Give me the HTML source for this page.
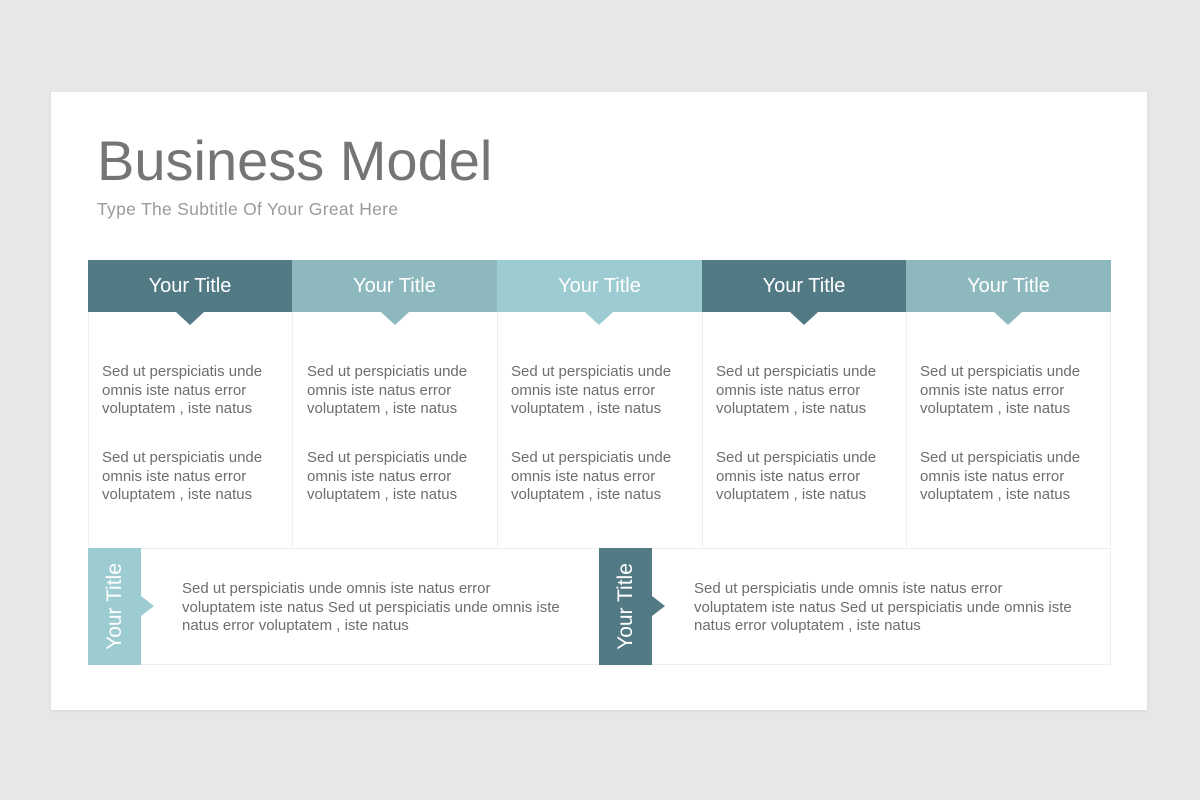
<!DOCTYPE html>
<html><head><meta charset="utf-8"><style>
body{margin:0;width:1200px;height:800px;background:#e8e6e7;font-family:"Liberation Sans",sans-serif;position:relative;overflow:hidden}
.slide{position:absolute;left:51px;top:92px;width:1096px;height:618px;background:#fff;box-shadow:0 1px 3px rgba(0,0,0,.08)}
.a{position:absolute}
h1{position:absolute;left:97px;top:128px;margin:0;font-weight:normal;font-size:56px;color:#757575;letter-spacing:0;line-height:66px}
.sub{left:97px;top:199px;font-size:17.5px;color:#9a9a9a;letter-spacing:0.3px}
.hd{height:52px;top:260px;color:#fff;font-size:20px;text-align:center;line-height:52px}
.tri{width:0;height:0;border-left:14px solid transparent;border-right:14px solid transparent;top:312px}
.col{top:312px;height:235px;border-left:1px solid #eee;border-right:1px solid #eee;box-sizing:border-box}
.tx{font-size:15px;line-height:18.5px;color:#6d6d6d}
.bt{top:548px;height:117px;border:1px solid #eee;box-sizing:border-box}
.vb{top:548px;width:53px;height:117px}
.vt{color:#fff;font-size:21px;transform:rotate(-90deg);transform-origin:center;width:117px;height:53px;line-height:53px;text-align:center;position:absolute;left:-32px;top:32px}
.rt{width:0;height:0;border-top:10px solid transparent;border-bottom:10px solid transparent;top:596px}
</style></head><body>
<div class="slide"></div>
<h1>Business Model</h1>
<div class="a sub">Type The Subtitle Of Your Great Here</div>

<div class="a col" style="left:88px;width:205px"></div>
<div class="a col" style="left:292px;width:206px"></div>
<div class="a col" style="left:497px;width:206px"></div>
<div class="a col" style="left:702px;width:205px"></div>
<div class="a col" style="left:906px;width:205px"></div>

<div class="a hd" style="left:88px;width:204px;background:#527a85">Your Title</div>
<div class="a hd" style="left:292px;width:205px;background:#8db8bd">Your Title</div>
<div class="a hd" style="left:497px;width:205px;background:#9ccbd1">Your Title</div>
<div class="a hd" style="left:702px;width:204px;background:#527a85">Your Title</div>
<div class="a hd" style="left:906px;width:205px;background:#8db8bd">Your Title</div>

<div class="a tri" style="left:176px;border-top:13px solid #527a85"></div>
<div class="a tri" style="left:381px;border-top:13px solid #8db8bd"></div>
<div class="a tri" style="left:585px;border-top:13px solid #9ccbd1"></div>
<div class="a tri" style="left:790px;border-top:13px solid #527a85"></div>
<div class="a tri" style="left:994px;border-top:13px solid #8db8bd"></div>

<div class="a tx" style="left:102px;top:363px">Sed ut perspiciatis unde<br>omnis iste natus error<br>voluptatem , iste natus</div>
<div class="a tx" style="left:307px;top:363px">Sed ut perspiciatis unde<br>omnis iste natus error<br>voluptatem , iste natus</div>
<div class="a tx" style="left:511px;top:363px">Sed ut perspiciatis unde<br>omnis iste natus error<br>voluptatem , iste natus</div>
<div class="a tx" style="left:716px;top:363px">Sed ut perspiciatis unde<br>omnis iste natus error<br>voluptatem , iste natus</div>
<div class="a tx" style="left:920px;top:363px">Sed ut perspiciatis unde<br>omnis iste natus error<br>voluptatem , iste natus</div>

<div class="a tx" style="left:102px;top:449px">Sed ut perspiciatis unde<br>omnis iste natus error<br>voluptatem , iste natus</div>
<div class="a tx" style="left:307px;top:449px">Sed ut perspiciatis unde<br>omnis iste natus error<br>voluptatem , iste natus</div>
<div class="a tx" style="left:511px;top:449px">Sed ut perspiciatis unde<br>omnis iste natus error<br>voluptatem , iste natus</div>
<div class="a tx" style="left:716px;top:449px">Sed ut perspiciatis unde<br>omnis iste natus error<br>voluptatem , iste natus</div>
<div class="a tx" style="left:920px;top:449px">Sed ut perspiciatis unde<br>omnis iste natus error<br>voluptatem , iste natus</div>

<div class="a bt" style="left:88px;width:512px"></div>
<div class="a bt" style="left:599px;width:512px"></div>

<div class="a vb" style="left:88px;background:#9ccbd1"><div class="vt">Your Title</div></div>
<div class="a rt" style="left:141px;border-left:13px solid #9ccbd1"></div>
<div class="a vb" style="left:599px;background:#527a85"><div class="vt">Your Title</div></div>
<div class="a rt" style="left:652px;border-left:13px solid #527a85"></div>

<div class="a tx" style="left:182px;top:580px">Sed ut perspiciatis unde omnis iste natus error<br>voluptatem iste natus Sed ut perspiciatis unde omnis iste<br>natus error voluptatem , iste natus</div>
<div class="a tx" style="left:694px;top:580px">Sed ut perspiciatis unde omnis iste natus error<br>voluptatem iste natus Sed ut perspiciatis unde omnis iste<br>natus error voluptatem , iste natus</div>
</body></html>
